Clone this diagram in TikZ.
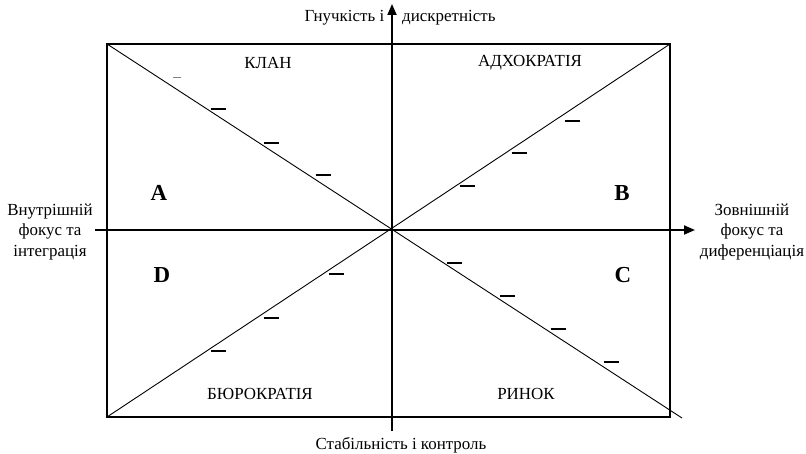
\documentclass[tikz,border=0pt]{standalone}
\usepackage{fontspec}
\setmainfont{Liberation Serif}
\usetikzlibrary{positioning,arrows.meta}

\tikzset{
  lbl/.style={font=\fontsize{17}{20}\selectfont,inner sep=0pt},
  side/.style={lbl,align=center,font=\fontsize{17}{21}\selectfont},
  quad/.style={inner sep=0pt,font=\fontsize{23}{26}\selectfont\bfseries},
  axis/.style={line width=1.8bp,-{Triangle[length=11bp,width=9bp]}},
  tick/.style={line width=1.5bp}
}

\begin{document}
\begin{tikzpicture}[x=1bp,y=-1bp]
\useasboundingbox (0,0) rectangle (806,454);
% frame and diagonals
\coordinate (nw) at (107,44); \coordinate (ne) at (670,44);
\coordinate (sw) at (107,417); \coordinate (se) at (670,417);
\coordinate (o) at (392,230);
\draw[line width=1.5bp] (nw) rectangle (se);
\coordinate (diagend) at (682,418);
\draw[line width=0.9bp] (nw) -- (diagend);
\draw[line width=0.9bp] (sw) -- (ne);
% axes
\coordinate (xl) at (95,230); \coordinate (xr) at (695,230);
\coordinate (yb) at (392,431); \coordinate (yt) at (392,4);
\draw[axis] (xl) -- (xr);
\draw[axis] (yb) -- (yt);
% small ticks along the diagonals
\foreach \tx/\ty in {218/109,271/143,323/175,572/121,519/153,467/186,336/274,271/318,218/351,454/263,507/296,558/329,611/362}
  {\draw[tick] (\tx-7.5,\ty) -- (\tx+7.5,\ty);}
\draw[gray,line width=1bp] (173,78) -- (181,78);
% labels
\node[lbl] (top) at (400,18) {Гнучкість і\hspace{18bp}дискретність};
\node[lbl] (bottom) at (401,445) {Стабільність і контроль};
\node[side] (left) at (50,232) {Внутрішній\\фокус та\\інтеграція};
\node[side] (right) at (752,232) {Зовнішній\\фокус та\\диференціація};
\node[lbl] (clan) at (268,63) {КЛАН};
\node[lbl] (adhoc) at (530,63) {АДХОКРАТІЯ};
\node[lbl] (bureau) at (260,394) {БЮРОКРАТІЯ};
\node[lbl] (market) at (526,394) {РИНОК};
\node[quad] (qa) at (159,193) {A};
\node[quad] (qb) at (622,193) {B};
\node[quad] (qd) at (162,275) {D};
\node[quad] (qc) at (623,275) {C};
\end{tikzpicture}
\end{document}
